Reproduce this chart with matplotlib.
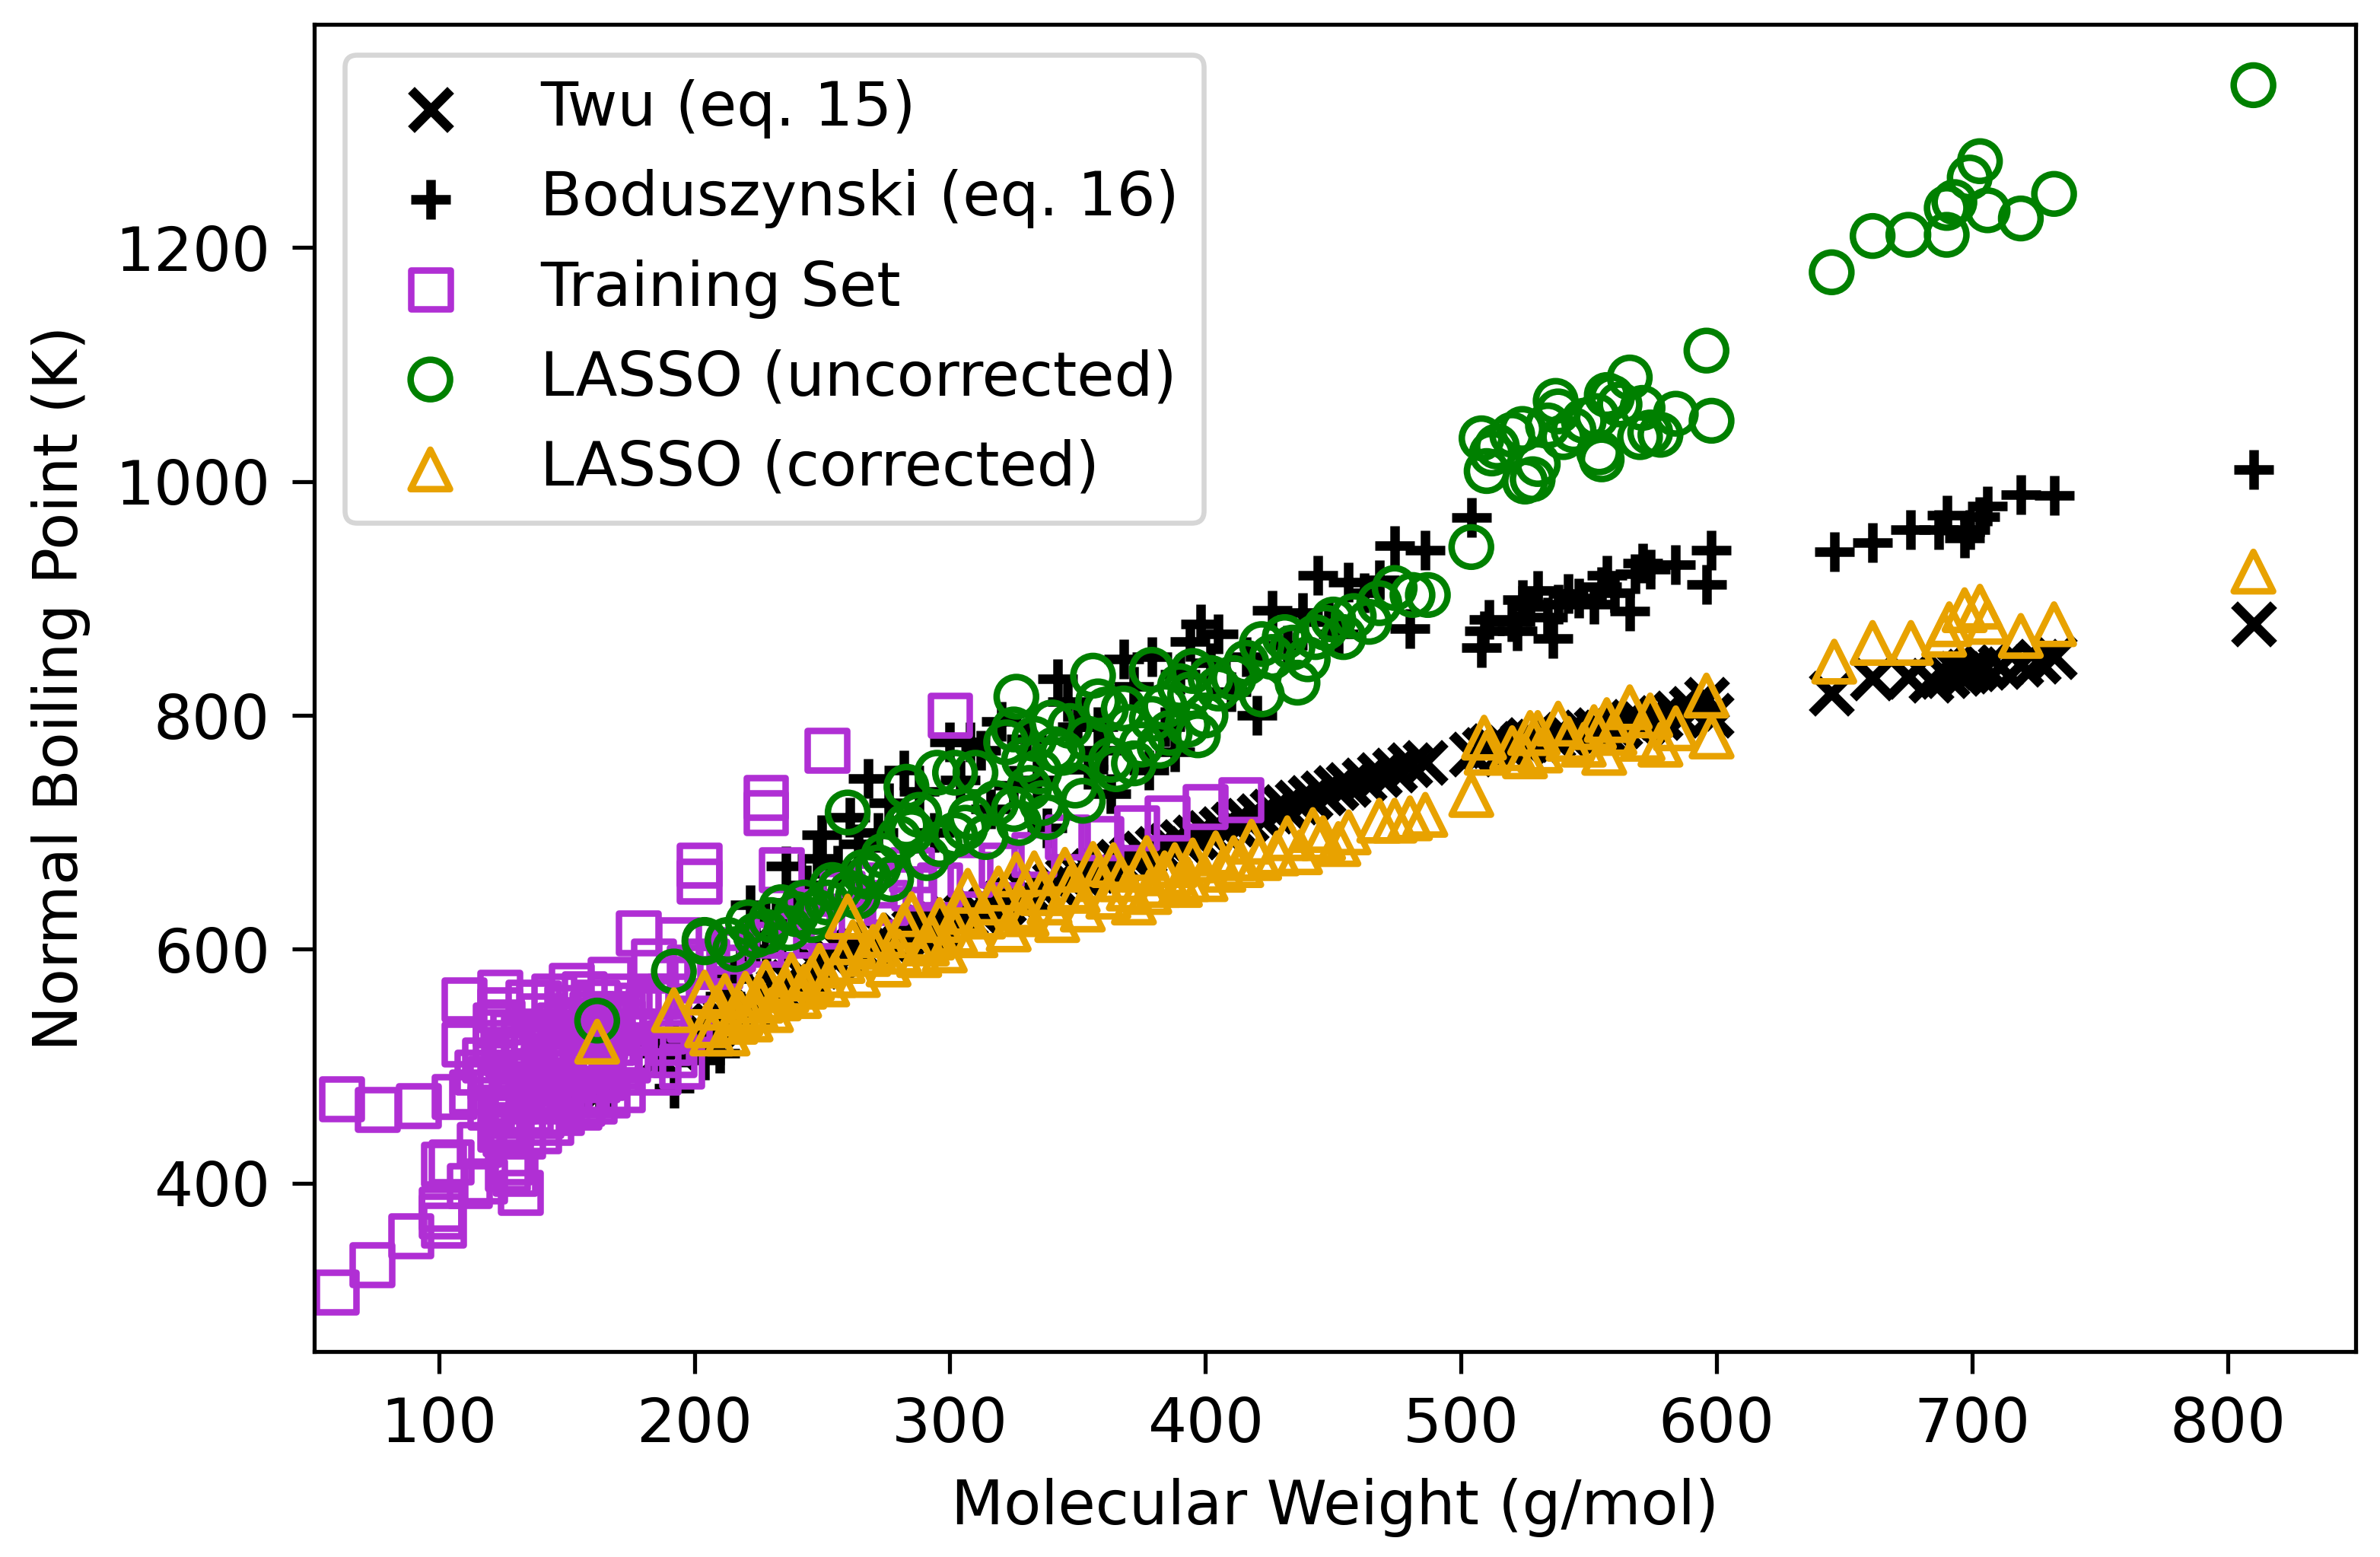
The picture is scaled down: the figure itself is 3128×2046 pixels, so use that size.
import matplotlib
matplotlib.use('Agg')
import matplotlib.pyplot as plt

# ============================================
# DATA
# ============================================
twu_mw = [162, 186, 192, 197, 203, 208, 212, 217, 222, 228, 233, 238, 243, 248, 254, 259, 264, 270, 275, 281,
          286, 291, 296, 301, 306, 311, 316, 321, 326, 331, 336, 341, 346, 351, 356, 361, 366, 371, 376, 381,
          386, 391, 396, 401, 406, 411, 416, 421, 426, 431, 436, 441, 446, 451, 456, 462, 468, 474, 480, 486,
          504, 509, 512, 518, 524, 526, 530, 536, 541, 548, 553, 556, 562, 567, 571, 578, 584, 590, 596, 598,
          645, 661, 675, 684, 690, 695, 698, 701, 705, 711, 719, 726, 732, 810]
twu_bp = [476, 508, 516, 522, 530, 535, 540, 545, 552, 560, 566, 572, 578, 585, 592, 597, 601, 605, 609, 612,
          616, 619, 622, 626, 629, 632, 636, 640, 644, 648, 651, 656, 660, 664, 667, 671, 675, 678, 682, 686,
          689, 692, 696, 700, 703, 707, 710, 714, 718, 722, 726, 730, 734, 738, 741, 745, 749, 753, 758, 760,
          767, 771, 774, 773, 776, 779, 778, 781, 784, 786, 788, 786, 791, 795, 793, 798, 802, 806, 814, 800,
          819, 832, 833, 830, 834, 836, 838, 840, 841, 842, 844, 846, 850, 878]

bod_mw = [157, 163, 187, 192, 196, 204, 210, 215, 222, 228, 236, 248, 250, 261, 268, 282, 300, 308, 320, 325,
          338, 342, 350, 354, 363, 368, 378, 379, 388, 394, 398, 405, 426, 438, 444, 456, 468, 474, 480, 486,
          504, 508, 509, 511, 522, 524, 530, 534, 536, 542, 552, 555, 557, 566, 568, 571, 584, 596, 598,
          646, 661, 676, 687, 690, 697, 699, 703, 706, 719, 732, 810,
          212, 218, 224, 232, 240, 244, 256, 264, 272, 276, 288, 294, 304, 312, 316, 330, 334, 346, 358, 360,
          372, 384, 390, 402, 410, 416, 420, 432, 448, 452, 462, 520, 527, 538, 546, 560, 574]
bod_bp = [475, 475, 511, 481, 516, 505, 511, 575, 638, 600, 671, 678, 698, 713, 746, 753, 777, 777, 795, 740,
          704, 831, 790, 754, 733, 848, 753, 850, 769, 863, 878, 870, 890, 888, 920, 914, 916, 945, 874, 941,
          969, 858, 872, 882, 872, 899, 907, 884, 866, 904, 895, 910, 920, 889, 921, 930, 929, 912, 941,
          940, 948, 959, 959, 971, 952, 959, 970, 979, 989, 988, 1010,
          560, 590, 612, 626, 640, 655, 672, 690, 700, 725, 735, 700, 745, 770, 720, 780, 745, 812, 790, 770,
          825, 790, 835, 845, 820, 850, 800, 860, 880, 870, 905, 880, 893, 895, 900, 905, 925]

train_mw = [60, 74, 89, 101, 102, 101, 62, 76, 92, 106, 102, 105, 116, 132, 130, 128, 110, 110, 124, 139,
            152, 167, 178, 194, 202, 202, 228, 228, 234, 252, 300, 414, 400, 385, 373, 359, 346, 333, 320, 308,
            296, 286, 275, 262, 250, 238, 226, 214, 205, 198, 190, 184, 178, 172, 168, 163,
            113, 115, 118, 120, 122, 124, 124, 125, 126, 127, 128, 129, 130, 131, 133, 134, 135, 136, 137, 138,
            139, 140, 141, 142, 143, 144, 145, 146, 147, 148, 149, 150, 151, 152, 153, 154, 155, 156, 157, 158,
            159, 160, 161, 162, 163, 164, 165, 166, 167, 168, 170, 172, 176, 180, 185, 190, 195, 198, 200, 210,
            112, 118, 127, 122, 135, 146, 158, 126, 140, 152, 165, 120, 133, 148, 160, 172, 182, 188, 144, 156,
            124, 136, 150, 162, 174, 186, 192, 128, 142, 156, 170, 215, 232, 245, 258, 270, 285]
train_bp = [307, 330, 355, 372, 364, 378, 472, 463, 466, 474, 416, 418, 433, 392, 408, 418, 557, 519, 563, 554,
            569, 574, 614, 608, 672, 658, 717, 730, 668, 770, 800, 728, 722, 712, 704, 695, 696, 681, 672, 664,
            655, 652, 640, 628, 620, 612, 604, 598, 590, 585, 560, 590, 552, 545, 540, 530,
            478, 495, 505, 465, 520, 548, 482, 538, 458, 510, 450, 528, 470, 495, 440, 515, 555, 462, 530, 480,
            445, 543, 500, 470, 520, 452, 560, 488, 535, 460, 505, 550, 475, 522, 495, 540, 465, 510, 562, 480,
            530, 500, 470, 555, 515, 490, 540, 475, 560, 520, 500, 480, 530, 510, 560, 520, 500, 540, 575, 585,
            398, 402, 412, 535, 485, 475, 498, 442, 458, 512, 525, 490, 525, 488, 545, 538, 548, 530, 505, 468,
            446, 472, 528, 488, 505, 495, 510, 462, 516, 535, 495, 600, 612, 632, 648, 655, 668]

lasso_raw_mw = [162, 192, 204, 204, 213, 221, 228, 234, 240, 246, 252, 257, 260, 264, 266, 272, 277, 283, 283, 285,
                291, 295, 302, 302, 306, 308, 310, 314, 322, 325, 325, 326, 329, 333, 338, 340, 341, 347, 352, 356,
                361, 365, 368, 372, 379, 379, 382, 393, 394, 395, 397, 405, 411, 422, 422, 431, 436, 443, 450, 454,
                468, 474, 481, 487,
                504, 508, 510, 512, 524, 525, 530, 537, 538, 540, 553, 554, 555, 557, 559, 566, 570, 571, 584, 596, 598,
                645, 661, 675, 690, 690, 693, 699, 703, 706, 719, 732, 810,
                216, 224, 230, 237, 243, 248, 254, 261, 268, 274, 280, 288, 296, 318, 327, 331, 335, 336, 344, 349,
                354, 358, 363, 370, 375, 384, 386, 390, 400, 402, 416, 426, 434, 440, 447, 458, 464, 514, 520, 528, 534,
                544, 548, 562, 574, 578]
lasso_raw_bp = [539, 581, 606, 608, 608, 623, 615, 636, 630, 625, 640, 652, 717, 645, 666, 670, 660, 739, 706, 701,
                678, 751, 751, 698, 704, 713, 751, 696, 777, 720, 788, 816, 762, 780, 713, 794, 771, 791, 727, 834,
                805, 754, 806, 759, 839, 797, 774, 792, 818, 838, 783, 823, 832, 818, 861, 867, 828, 867, 882, 867,
                896, 909, 903, 903,
                944, 1037, 1009, 1024, 1045, 1000, 1015, 1069, 1060, 1038, 1056, 1025, 1019, 1074, 1072, 1089, 1038, 1063, 1058, 1112, 1052,
                1179, 1210, 1211, 1234, 1211, 1239, 1260, 1274, 1232, 1225, 1246, 1339,
                600, 612, 625, 618, 640, 632, 655, 648, 662, 680, 695, 715, 690, 725, 708, 738, 752, 725, 768, 740,
                780, 812, 762, 790, 775, 808, 785, 825, 800, 832, 845, 850, 858, 848, 875, 885, 880, 1030, 1040, 1002, 1048,
                1044, 1052, 1066, 1042, 1040]

lasso_cor_mw = [162, 192, 204, 205, 209, 213, 218, 222, 226, 230, 236, 241, 246, 252, 258, 260, 264, 268, 276, 282,
                288, 293, 298, 304, 310, 316, 323, 326, 330, 336, 342, 347, 352, 356, 362, 367, 372, 377, 378, 384,
                390, 395, 400, 407, 414, 421, 428, 437, 446, 452, 456, 468, 474, 480, 486,
                504, 509, 510, 525, 527, 531, 538, 548, 556, 557, 566, 571, 584, 596, 598,
                646, 661, 676, 689, 691, 697, 703, 706, 719, 732, 810,
                207, 212, 216, 220, 224, 228, 233, 238, 243, 249, 255, 262, 270, 274, 280, 285, 291, 296, 302, 307,
                313, 319, 328, 333, 339, 345, 350, 358, 364, 370, 375, 382, 388, 393, 404, 411, 418, 432, 442, 520,
                530, 542, 552, 560, 574, 578]
lasso_cor_bp = [521, 548, 563, 535, 550, 528, 545, 540, 556, 548, 565, 560, 575, 570, 590, 628, 578, 596, 587, 620,
                595, 610, 599, 632, 612, 640, 617, 664, 630, 648, 625, 652, 634, 673, 645, 660, 640, 678, 649, 665,
                655, 676, 660, 668, 672, 678, 682, 683, 695, 690, 700, 710, 710, 712, 715,
                732, 781, 768, 765, 785, 770, 793, 775, 768, 796, 807, 780, 789, 817, 782,
                846, 862, 862, 869, 878, 890, 893, 880, 868, 878, 923,
                528, 560, 538, 562, 550, 572, 558, 578, 568, 586, 578, 606, 602, 612, 598, 630, 605, 625, 615, 650,
                628, 652, 635, 665, 640, 668, 650, 660, 672, 652, 668, 655, 672, 660, 682, 678, 692, 695, 702, 772,
                785, 780, 790, 785, 800, 775]

tick_x = [100, 200, 300, 400, 500, 600, 700, 800]
tick_y = [400, 600, 800, 1000, 1200]

# ============================================
# PLOT
# ============================================
purple = '#B02FD4'
orange = '#E8A200'

fig = plt.figure(figsize=(3128 / 474, 2046 / 474), dpi=474)
ax = fig.add_axes([413 / 3128, 1 - 1776 / 2046, (3096 - 413) / 3128, (1776 - 32) / 2046])

ax.scatter(twu_mw, twu_bp, marker='x', s=62, c='k', linewidths=1.9, label='Twu (eq. 15)')
ax.scatter(bod_mw, bod_bp, marker='+', s=62, c='k', linewidths=1.9, label='Boduszynski (eq. 16)')
ax.scatter(train_mw, train_bp, marker='s', s=62, facecolors='none', edgecolors=purple, linewidths=1.3, label='Training Set')
ax.scatter(lasso_raw_mw, lasso_raw_bp, marker='o', s=62, facecolors='none', edgecolors='green', linewidths=1.3, label='LASSO (uncorrected)')
ax.scatter(lasso_cor_mw, lasso_cor_bp, marker='^', s=62, facecolors='none', edgecolors=orange, linewidths=1.3, label='LASSO (corrected)')

ax.set_xlim(51.3, 850)
ax.set_ylim(256, 1391)
ax.set_xticks(tick_x)
ax.set_yticks(tick_y)
ax.tick_params(labelsize=12.2, length=4.4, pad=4.4)
ax.set_xlabel('Molecular Weight (g/mol)', fontsize=12.2, labelpad=4.6)
ax.set_ylabel('Normal Boiling Point (K)', fontsize=12.2, labelpad=4.8)
ax.legend(loc='upper left', fontsize=12.2)

plt.savefig('out.png', dpi=474)
plt.close()
